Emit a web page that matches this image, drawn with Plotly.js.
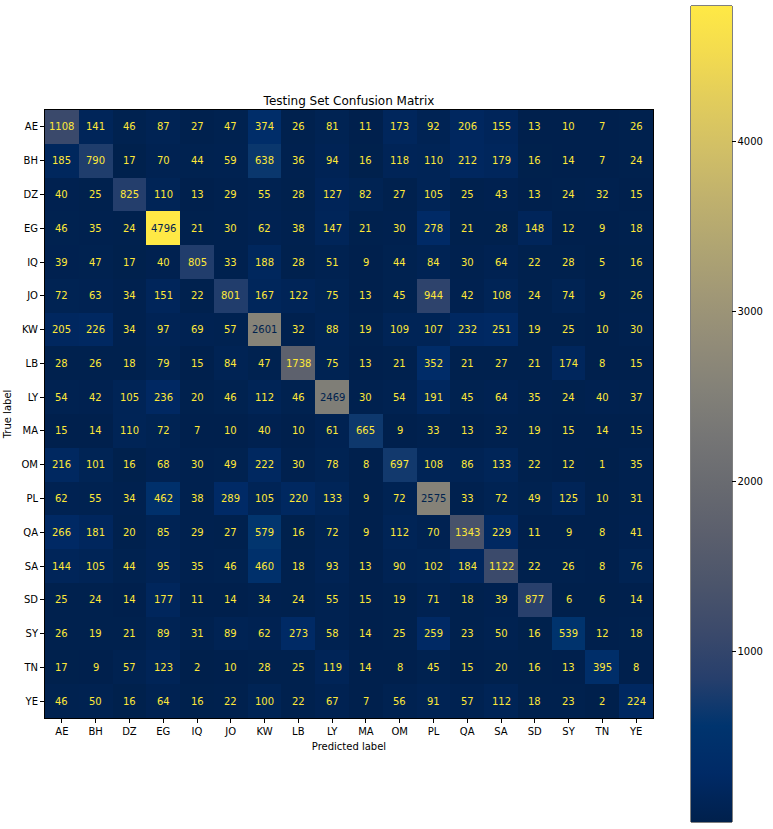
<!DOCTYPE html>
<html>
<head>
<meta charset="utf-8">
<script src="https://cdn.plot.ly/plotly-3.0.1.min.js"></script>
<style>html,body{margin:0;padding:0;background:#fff;}</style>
</head>
<body>
<div id="chart" style="width:773px;height:829px;"></div>
<script>
const labels = ["AE","BH","DZ","EG","IQ","JO","KW","LB","LY","MA","OM","PL","QA","SA","SD","SY","TN","YE"];

const rowAE = [1108,141,46,87,27,47,374,26,81,11,173,92,206,155,13,10,7,26];
const rowBH = [185,790,17,70,44,59,638,36,94,16,118,110,212,179,16,14,7,24];
const rowDZ = [40,25,825,110,13,29,55,28,127,82,27,105,25,43,13,24,32,15];
const rowEG = [46,35,24,4796,21,30,62,38,147,21,30,278,21,28,148,12,9,18];
const rowIQ = [39,47,17,40,805,33,188,28,51,9,44,84,30,64,22,28,5,16];
const rowJO = [72,63,34,151,22,801,167,122,75,13,45,944,42,108,24,74,9,26];
const rowKW = [205,226,34,97,69,57,2601,32,88,19,109,107,232,251,19,25,10,30];
const rowLB = [28,26,18,79,15,84,47,1738,75,13,21,352,21,27,21,174,8,15];
const rowLY = [54,42,105,236,20,46,112,46,2469,30,54,191,45,64,35,24,40,37];
const rowMA = [15,14,110,72,7,10,40,10,61,665,9,33,13,32,19,15,14,15];
const rowOM = [216,101,16,68,30,49,222,30,78,8,697,108,86,133,22,12,1,35];
const rowPL = [62,55,34,462,38,289,105,220,133,9,72,2575,33,72,49,125,10,31];
const rowQA = [266,181,20,85,29,27,579,16,72,9,112,70,1343,229,11,9,8,41];
const rowSA = [144,105,44,95,35,46,460,18,93,13,90,102,184,1122,22,26,8,76];
const rowSD = [25,24,14,177,11,14,34,24,55,15,19,71,18,39,877,6,6,14];
const rowSY = [26,19,21,89,31,89,62,273,58,14,25,259,23,50,16,539,12,18];
const rowTN = [17,9,57,123,2,10,28,25,119,14,8,45,15,20,16,13,395,8];
const rowYE = [46,50,16,64,16,22,100,22,67,7,56,91,57,112,18,23,2,224];

const colorbarTicks = [1000,2000,3000,4000];

const z = [rowAE,rowBH,rowDZ,rowEG,rowIQ,rowJO,rowKW,rowLB,rowLY,rowMA,rowOM,rowPL,rowQA,rowSA,rowSD,rowSY,rowTN,rowYE];

let zmin = Infinity, zmax = -Infinity;
z.forEach(r => r.forEach(v => { if (v < zmin) zmin = v; if (v > zmax) zmax = v; }));
const thresh = (zmin + zmax) / 2;
const darkColor = "#00224e";
const lightColor = "#fee838";

const annotations = [];
z.forEach((row, i) => row.forEach((v, j) => {
  annotations.push({
    x: labels[j], y: labels[i], xref: "x", yref: "y",
    text: String(v), showarrow: false,
    font: {family: "DejaVu Sans", size: 10, color: v > thresh ? darkColor : lightColor}
  });
}));

// plot area geometry (pixels)
const W = 773, H = 829, L = 45, R = 120, T = 110, B = 111;
const pw = W - L - R, ph = H - T - B;
const cbLeft = 691, cbTop = 6, cbBottom = 822, cbThick = 41;

const trace = {
  type: "heatmap",
  x: labels, y: labels, z: z,
  colorscale: "Cividis",
  zmin: zmin, zmax: zmax,
  colorbar: {
    x: (cbLeft - L) / pw, xanchor: "left",
    y: (H - B - cbTop) / ph, yanchor: "top",
    lenmode: "pixels", len: cbBottom - cbTop,
    thickness: cbThick, thicknessmode: "pixels",
    xpad: 0, ypad: 0,
    outlinewidth: 0,
    tickvals: colorbarTicks,
    ticks: "outside", ticklen: 4, tickcolor: "#000",
    tickfont: {family: "DejaVu Sans", size: 10, color: "#000"}
  }
};

const layout = {
  width: W, height: H,
  margin: {l: L, r: R, t: T, b: B, autoexpand: false},
  paper_bgcolor: "#fff", plot_bgcolor: "#fff",
  font: {family: "DejaVu Sans", size: 10, color: "#000"},
  title: {text: "Testing Set Confusion Matrix", font: {family: "DejaVu Sans", size: 12, color: "#000"},
          x: 0.5, xref: "paper", y: 1 - 101/H, yanchor: "middle"},
  xaxis: {
    type: "category", showline: true, mirror: true, linecolor: "#000", linewidth: 1,
    ticks: "outside", ticklen: 4, tickcolor: "#000", showgrid: false, zeroline: false, automargin: false,
    tickfont: {family: "DejaVu Sans", size: 10, color: "#000"},
    title: {text: "Predicted label", font: {family: "DejaVu Sans", size: 10, color: "#000"}, standoff: 6}
  },
  yaxis: {
    type: "category", autorange: "reversed", showline: true, mirror: true, linecolor: "#000", linewidth: 1,
    ticks: "outside", ticklen: 4, tickcolor: "#000", showgrid: false, zeroline: false, automargin: false,
    tickfont: {family: "DejaVu Sans", size: 10, color: "#000"},
    title: {text: "True label", font: {family: "DejaVu Sans", size: 10, color: "#000"}, standoff: 8}
  },
  shapes: [{
    type: "rect", xref: "paper", yref: "paper",
    x0: (cbLeft - L) / pw, x1: (cbLeft + cbThick - L) / pw,
    y0: (H - B - cbBottom) / ph, y1: (H - B - cbTop) / ph,
    line: {color: "#000", width: 1}, fillcolor: "rgba(0,0,0,0)", layer: "above"
  }],
  annotations: annotations
};

Plotly.newPlot("chart", [trace], layout, {displayModeBar: false, staticPlot: true});
</script>
</body>
</html>
